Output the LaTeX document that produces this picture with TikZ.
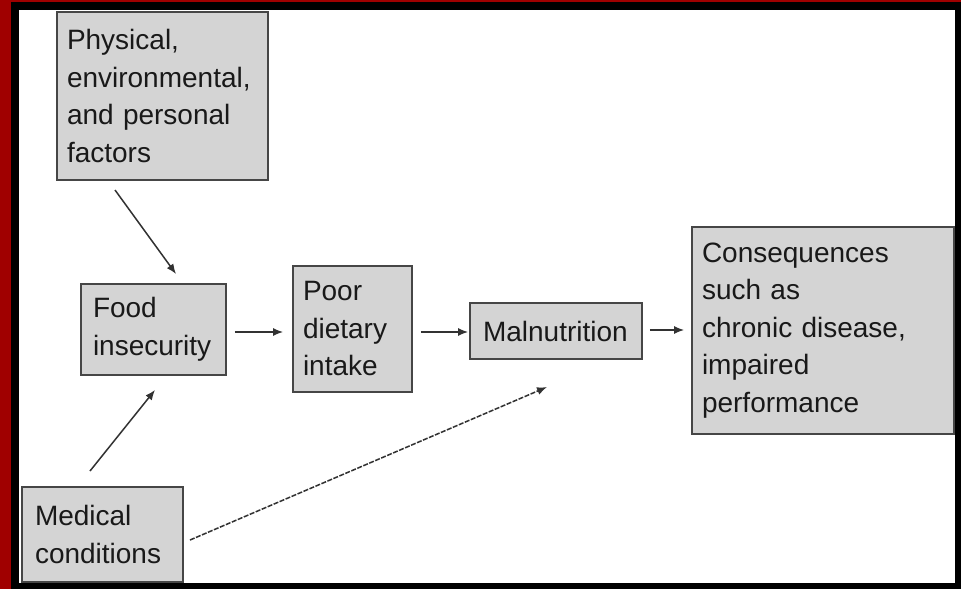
\documentclass[tikz,border=0pt]{standalone}
\usepackage{fontspec}
\setmainfont{Liberation Sans}
\usetikzlibrary{arrows.meta}
\definecolor{framered}{RGB}{160,0,0}
\definecolor{boxfill}{RGB}{212,212,212}
\definecolor{boxline}{RGB}{70,70,70}
\definecolor{arrline}{RGB}{50,50,50}
\definecolor{txt}{RGB}{25,25,25}
\begin{document}
\begin{tikzpicture}[x=1pt,y=-1pt,
  box/.style={draw=boxline,fill=boxfill,line width=1.8pt,inner ysep=0pt,align=left,
    text=txt,font=\fontsize{28}{37.5}\selectfont},
  arr/.style={draw=arrline,line width=1.5pt,-{Latex[length=10pt,width=8pt]}},
  darr/.style={arr,dash pattern=on 5pt off 1.5pt}]
\useasboundingbox (0,0) rectangle (961,589);
% frame
\fill[black] (0,0) rectangle (961,589);
\fill[framered] (0,0) rectangle (11,589);
\fill[framered] (0,0) rectangle (961,1.5);
\fill[white] (19,9.5) rectangle (955,583);
% boxes
\node[box,text width=191pt,inner xsep=10pt,minimum height=168pt] (phys) at (162.5,96)
  {Physical,\\environmental,\\and personal\\factors};
\node[box,text width=121pt,inner xsep=12pt,minimum height=91pt] (food) at (153.5,329.5)
  {Food\\insecurity};
\node[box,text width=99pt,inner xsep=10pt,minimum height=126pt] (poor) at (352.5,329)
  {Poor\\dietary\\intake};
\node[box,text width=146pt,inner xsep=13pt,minimum height=56pt] (mal) at (556,331)
  {Malnutrition};
\node[box,text width=242pt,inner xsep=10pt,minimum height=207pt] (cons) at (823,330.5)
  {Consequences\\such as\\chronic disease,\\impaired\\performance};
\node[box,text width=135pt,inner xsep=13pt,minimum height=95pt] (med) at (102.5,534.5)
  {Medical\\conditions};
% connector ends
\coordinate (p1) at (115,190);
\coordinate (p2) at (176,274);
\coordinate (m1) at (90,471);
\coordinate (m2) at (155,390);
\coordinate (d1) at (190,540);
\coordinate (d2) at (547,387);
% connectors
\draw[arr] (p1) -- (p2);
\draw[arr] (m1) -- (m2);
\draw[darr] (d1) -- (d2);
\draw[arr,shorten <=8pt,shorten >=9pt] ([yshift=-2.5pt]food.east) -- ([yshift=-2.5pt]food.east -| poor.west);
\draw[arr,shorten <=8pt,shorten >=1pt] ([yshift=-3pt]poor.east) -- ([yshift=-3pt]poor.east -| mal.west);
\draw[arr,shorten <=7pt,shorten >=7pt] ([yshift=1pt]mal.east) -- ([yshift=1pt]mal.east -| cons.west);
\end{tikzpicture}
\end{document}
